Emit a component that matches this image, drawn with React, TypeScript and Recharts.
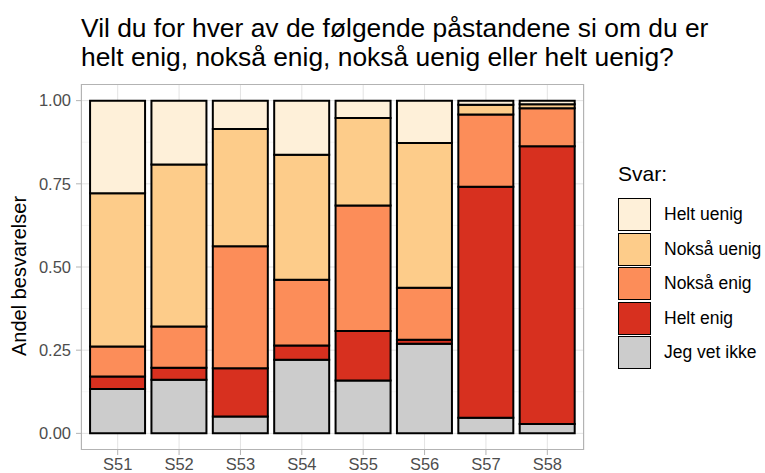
import React from 'react';
import { BarChart, Bar, XAxis, YAxis, CartesianGrid } from 'recharts';

const statements = ['S51', 'S52', 'S53', 'S54', 'S55', 'S56', 'S57', 'S58'];
const jegVetIkke = [0.133, 0.161, 0.051, 0.221, 0.159, 0.269, 0.047, 0.028];
const heltEnig = [0.038, 0.036, 0.145, 0.043, 0.149, 0.012, 0.694, 0.835];
const noksaEnig = [0.09, 0.124, 0.366, 0.198, 0.377, 0.157, 0.217, 0.114];
const noksaUenig = [0.461, 0.487, 0.353, 0.375, 0.263, 0.435, 0.03, 0.012];
const heltUenig = [0.278, 0.192, 0.085, 0.163, 0.052, 0.127, 0.012, 0.011];

const yTicks = [0, 0.25, 0.5, 0.75, 1];
const yMinor = [0.125, 0.375, 0.625, 0.875];

// bottom to top in the stack
const series = [
  { key: 'jvi', name: 'Jeg vet ikke', color: '#CCCCCC' },
  { key: 'he', name: 'Helt enig', color: '#D7301F' },
  { key: 'ne', name: 'Nokså enig', color: '#FC8D59' },
  { key: 'nu', name: 'Nokså uenig', color: '#FDCC8A' },
  { key: 'hu', name: 'Helt uenig', color: '#FEF0D9' },
];

const data = statements.map((s, i) => ({
  s,
  jvi: jegVetIkke[i],
  he: heltEnig[i],
  ne: noksaEnig[i],
  nu: noksaUenig[i],
  hu: heltUenig[i],
}));

const font = '"Liberation Sans", Arial, Helvetica, sans-serif';

const App = () => {
  return (
    <div style={{ position: 'absolute', left: 0, top: 0, width: 765, height: 473, fontFamily: font, background: '#fff' }}>
      <div style={{ position: 'absolute', left: 81, top: 14, fontSize: 26.4, lineHeight: '29px', color: '#000', whiteSpace: 'nowrap' }}>
        Vil du for hver av de følgende påstandene si om du er
        <br />
        helt enig, nokså enig, nokså uenig eller helt uenig?
      </div>
      <BarChart
        width={765}
        height={473}
        data={data}
        margin={{ top: 84, right: 181, bottom: 0, left: 0 }}
        barCategoryGap="5%"
      >
        <CartesianGrid horizontalValues={yMinor} vertical={false} stroke="#F0F0F0" strokeWidth={0.7} />
        <CartesianGrid horizontalValues={yTicks} stroke="#E3E3E3" strokeWidth={1} />
        <XAxis
          dataKey="s"
          height={23}
          padding={{ left: 6, right: 6 }}
          axisLine={false}
          tickLine={{ stroke: '#B3B3B3' }}
          tickSize={5}
          tickMargin={3}
          tick={{ fill: '#4D4D4D', fontSize: 16.5, fontFamily: font }}
        />
        <YAxis
          type="number"
          domain={[-0.05, 1.05]}
          ticks={yTicks}
          allowDataOverflow
          width={81}
          axisLine={false}
          tickLine={{ stroke: '#B3B3B3' }}
          tickSize={5}
          tickMargin={5}
          tickFormatter={(v: number) => v.toFixed(2)}
          tick={{ fill: '#4D4D4D', fontSize: 16.5, fontFamily: font }}
        />
        {series.map((sr) => (
          <Bar
            key={sr.key}
            dataKey={sr.key}
            name={sr.name}
            stackId="a"
            fill={sr.color}
            stroke="#000"
            strokeWidth={2}
            isAnimationActive={false}
          />
        ))}
      </BarChart>
      <div style={{ position: 'absolute', left: 81, top: 84, width: 503, height: 366, border: '1px solid #B3B3B3', boxSizing: 'border-box', pointerEvents: 'none' }} />
      <div
        style={{
          position: 'absolute',
          left: 19,
          top: 276,
          transform: 'translate(-50%, -50%) rotate(-90deg)',
          fontSize: 20,
          whiteSpace: 'nowrap',
          color: '#000',
        }}
      >
        Andel besvarelser
      </div>
      <div style={{ position: 'absolute', left: 618, top: 162, fontSize: 21, color: '#000' }}>Svar:</div>
      {series
        .slice()
        .reverse()
        .map((sr, i) => (
          <div key={sr.key} style={{ position: 'absolute', left: 618, top: 198 + i * 34.5, height: 33, display: 'flex', alignItems: 'center' }}>
            <div style={{ width: 33, height: 33, boxSizing: 'border-box', border: '1.8px solid #000', background: sr.color }} />
            <div style={{ marginLeft: 13, fontSize: 17.5, color: '#000', whiteSpace: 'nowrap' }}>{sr.name}</div>
          </div>
        ))}
    </div>
  );
};

export default App;
